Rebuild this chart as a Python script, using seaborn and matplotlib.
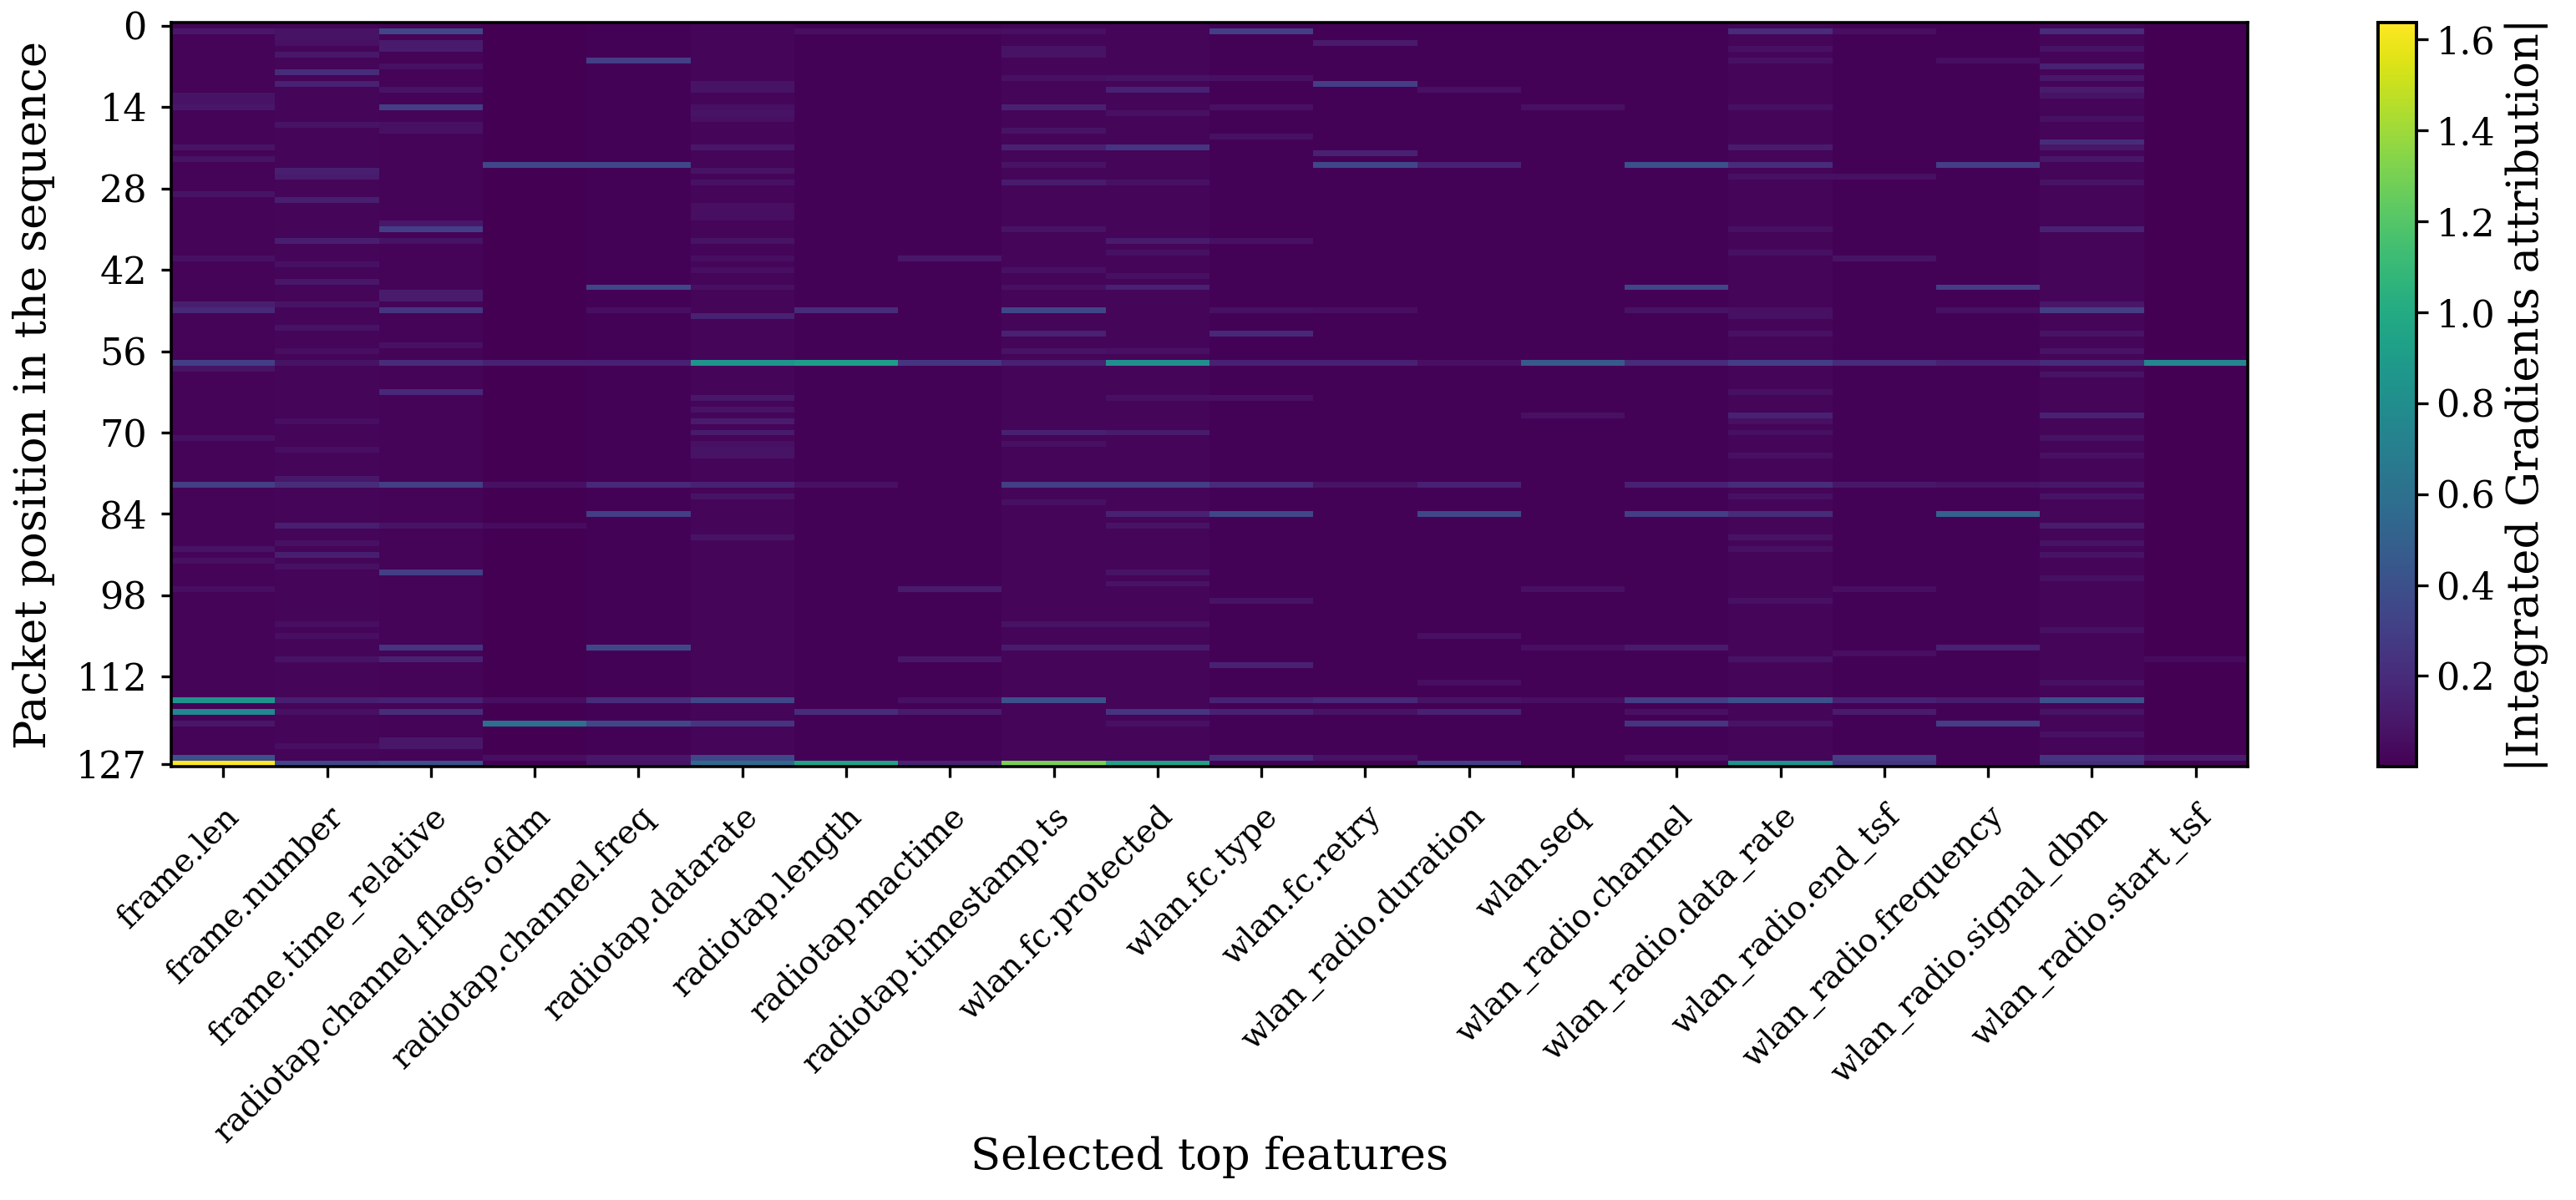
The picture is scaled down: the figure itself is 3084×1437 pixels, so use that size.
import matplotlib
matplotlib.use("Agg")
import matplotlib.pyplot as plt
import numpy as np
import pandas as pd
import seaborn as sns

features = [
    "frame.len", "frame.number", "frame.time_relative",
    "radiotap.channel.flags.ofdm", "radiotap.channel.freq",
    "radiotap.datarate", "radiotap.length", "radiotap.mactime",
    "radiotap.timestamp.ts", "wlan.fc.protected", "wlan.fc.type",
    "wlan.fc.retry", "wlan_radio.duration", "wlan.seq",
    "wlan_radio.channel", "wlan_radio.data_rate", "wlan_radio.end_tsf",
    "wlan_radio.frequency", "wlan_radio.signal_dbm", "wlan_radio.start_tsf",
]
n_packets = 128

# background attribution level per feature
base_level = [0.015, 0.02, 0.015, 0.005, 0.01, 0.025, 0.01, 0.01, 0.02, 0.02,
              0.01, 0.01, 0.01, 0.01, 0.01, 0.02, 0.01, 0.01, 0.025, 0.005]

# visible stripes: feature index, packet position, |IG| value
hot_feature = (
    [0] * 22 + [1] * 32 + [2] * 27 + [3] * 7 + [4] * 12 + [5] * 31 + [6] * 6
    + [7] * 8 + [8] * 24 + [9] * 23 + [10] * 16 + [11] * 10 + [12] * 10
    + [13] * 6 + [14] * 11 + [15] * 28 + [16] * 11 + [17] * 10 + [18] * 34
    + [19] * 3
)
hot_packet = [
    # frame.len
    1, 12, 13, 14, 21, 23, 29, 40, 48, 49, 58, 59, 71, 79, 90, 92, 97, 116, 118, 120, 126, 127,
    # frame.number
    1, 2, 3, 5, 8, 10, 17, 25, 26, 30, 37, 41, 44, 48, 52, 56, 58, 68, 73, 78, 79, 86, 89, 91,
    93, 103, 105, 109, 116, 118, 124, 127,
    # frame.time_relative
    1, 3, 4, 7, 11, 14, 17, 18, 34, 35, 37, 46, 47, 49, 55, 58, 63, 79, 86, 94, 107, 109, 116,
    118, 123, 124, 127,
    # radiotap.channel.flags.ofdm
    24, 58, 79, 86, 116, 120, 126,
    # radiotap.channel.freq
    6, 24, 45, 49, 58, 79, 84, 107, 116, 120, 126, 127,
    # radiotap.datarate
    10, 11, 14, 15, 16, 21, 25, 27, 31, 32, 33, 37, 40, 42, 45, 50, 58, 64, 66, 68, 70, 72, 73,
    74, 79, 81, 88, 116, 120, 126, 127,
    # radiotap.length
    1, 49, 58, 79, 118, 127,
    # radiotap.mactime
    1, 40, 58, 97, 109, 116, 118, 127,
    # radiotap.timestamp.ts
    1, 4, 5, 9, 14, 18, 21, 24, 27, 35, 42, 45, 49, 53, 56, 58, 70, 72, 79, 82, 103, 107, 116, 127,
    # wlan.fc.protected
    9, 11, 15, 21, 27, 37, 39, 43, 45, 56, 58, 64, 70, 79, 84, 86, 94, 96, 103, 107, 118, 120, 127,
    # wlan.fc.type
    1, 9, 14, 19, 37, 49, 53, 58, 64, 79, 84, 99, 110, 116, 118, 126,
    # wlan.fc.retry
    3, 10, 22, 24, 49, 58, 79, 116, 118, 126,
    # wlan_radio.duration
    11, 24, 58, 79, 84, 105, 113, 116, 118, 127,
    # wlan.seq
    14, 58, 67, 97, 107, 116,
    # wlan_radio.channel
    24, 45, 49, 58, 79, 84, 107, 116, 118, 120, 126,
    # wlan_radio.data_rate
    1, 4, 6, 14, 21, 24, 26, 35, 39, 49, 50, 53, 58, 63, 67, 68, 70, 74, 79, 81, 84, 88, 90, 99,
    109, 116, 120, 127,
    # wlan_radio.end_tsf
    1, 26, 40, 58, 79, 97, 108, 116, 118, 126, 127,
    # wlan_radio.frequency
    6, 24, 45, 49, 58, 79, 84, 107, 116, 120,
    # wlan_radio.signal_dbm
    1, 4, 7, 9, 11, 12, 16, 20, 21, 23, 27, 35, 48, 49, 53, 56, 58, 60, 67, 71, 74, 79, 81, 86,
    89, 91, 95, 104, 113, 116, 118, 122, 126, 127,
    # wlan_radio.start_tsf
    58, 109, 126,
]
hot_value = [
    # frame.len
    .10, .08, .08, .10, .08, .08, .08, .07, .14, .18, .30, .08, .07, .30, .08, .07, .06, .85, .75, .10, .40, 1.637,
    # frame.number
    .08, .08, .07, .10, .20, .15, .08, .14, .12, .14, .14, .07, .10, .08, .08, .06, .08, .06, .06, .10, .20, .14, .07, .14,
    .07, .06, .06, .08, .14, .07, .06, .35,
    # frame.time_relative
    .35, .12, .12, .07, .08, .30, .07, .07, .10, .30, .08, .12, .12, .25, .07, .20, .18, .30, .08, .30, .25, .15, .15,
    .20, .10, .10, .40,
    # radiotap.channel.flags.ofdm
    .35, .15, .07, .05, .06, .60, .06,
    # radiotap.channel.freq
    .30, .35, .35, .06, .15, .18, .30, .35, .20, .35, .10, .08,
    # radiotap.datarate
    .08, .08, .07, .08, .07, .10, .08, .07, .06, .06, .06, .08, .06, .06, .07, .15, .85, .10, .08, .12, .12, .07, .08,
    .08, .15, .08, .08, .35, .25, .35, .55,
    # radiotap.length
    .06, .20, .90, .07, .20, .95,
    # radiotap.mactime
    .06, .10, .25, .12, .10, .07, .12, .15,
    # radiotap.timestamp.ts
    .07, .08, .08, .07, .15, .08, .15, .08, .12, .08, .07, .07, .35, .15, .08, .15, .15, .07, .30, .07, .08, .12, .40, 1.30,
    # wlan.fc.protected
    .08, .15, .07, .25, .07, .12, .07, .07, .15, .07, .80, .07, .12, .30, .15, .08, .08, .08, .08, .12, .25, .07, .95,
    # wlan.fc.type
    .30, .07, .07, .07, .07, .07, .18, .15, .07, .20, .35, .08, .15, .15, .15, .20,
    # wlan.fc.retry
    .12, .30, .15, .35, .06, .15, .08, .18, .08, .08,
    # wlan_radio.duration
    .07, .15, .07, .15, .35, .07, .06, .08, .15, .30,
    # wlan.seq
    .07, .45, .07, .07, .06, .06,
    # wlan_radio.channel
    .40, .35, .08, .20, .15, .30, .12, .30, .07, .25, .07,
    # wlan_radio.data_rate
    .20, .07, .07, .07, .12, .20, .07, .07, .07, .07, .07, .07, .30, .07, .15, .07, .07, .07, .20, .07, .20, .08, .07, .07,
    .08, .40, .08, .85,
    # wlan_radio.end_tsf
    .06, .07, .08, .20, .10, .06, .06, .15, .12, .30, .25,
    # wlan_radio.frequency
    .06, .30, .30, .07, .15, .08, .50, .15, .12, .30,
    # wlan_radio.signal_dbm
    .20, .08, .15, .10, .12, .08, .07, .20, .10, .10, .08, .15, .10, .30, .08, .08, .20, .08, .15, .08, .07, .10, .08, .12,
    .08, .08, .07, .07, .07, .40, .08, .07, .25, .20,
    # wlan_radio.start_tsf
    .75, .05, .12,
]

attr = np.tile(np.array(base_level), (n_packets, 1))
for f, p, v in zip(hot_feature, hot_packet, hot_value):
    attr[p, f] = v
attr_df = pd.DataFrame(attr, columns=features)

sns.set_style("ticks")
plt.rcParams["font.family"] = ["DejaVu Serif"]
plt.rcParams["text.color"] = "black"
plt.rcParams["axes.labelcolor"] = "black"
plt.rcParams["xtick.color"] = "black"
plt.rcParams["ytick.color"] = "black"

fig = plt.figure(figsize=(15.42, 7.185), dpi=200)
ax = fig.add_axes([0.0665, 0.361, 0.806, 0.620])
cax = fig.add_axes([0.923, 0.361, 0.0150, 0.620])

sns.heatmap(
    attr_df,
    cmap="viridis",
    vmin=0,
    ax=ax,
    cbar_ax=cax,
    cbar_kws={"label": "|Integrated Gradients attribution|"},
    xticklabels=True,
    yticklabels=False,
)

ytick_vals = list(range(0, 113, 14)) + [127]
ax.set_yticks(np.array(ytick_vals) + 0.5)
ax.set_yticklabels([str(v) for v in ytick_vals], rotation=0, fontsize=16)
ax.set_xticks(np.arange(len(features)) + 0.5)
ax.set_xticklabels(features, rotation=45, ha="right", rotation_mode="anchor", fontsize=14)
ax.tick_params(axis="both", direction="out", length=4.5, width=1.2,
               color="black", labelcolor="black")
ax.tick_params(axis="y", pad=6)
ax.tick_params(axis="x", pad=10)

for spine in ax.spines.values():
    spine.set_visible(True)
    spine.set_color("black")
    spine.set_linewidth(1.3)

ax.set_xlabel("Selected top features", fontsize=19, color="black")
ax.set_ylabel("Packet position in the sequence", fontsize=19, color="black")
ax.xaxis.set_label_coords(0.5, -0.496)
ax.yaxis.set_label_coords(-0.056, 0.5)

cax.set_yticks([0.2, 0.4, 0.6, 0.8, 1.0, 1.2, 1.4, 1.6])
cax.tick_params(labelsize=16, length=5, width=1.2, color="black", labelcolor="black")
cax.yaxis.label.set_size(19)
cax.yaxis.label.set_color("black")
for spine in cax.spines.values():
    spine.set_visible(True)
    spine.set_color("black")
    spine.set_linewidth(1.3)

fig.savefig("out.png", dpi=200)
